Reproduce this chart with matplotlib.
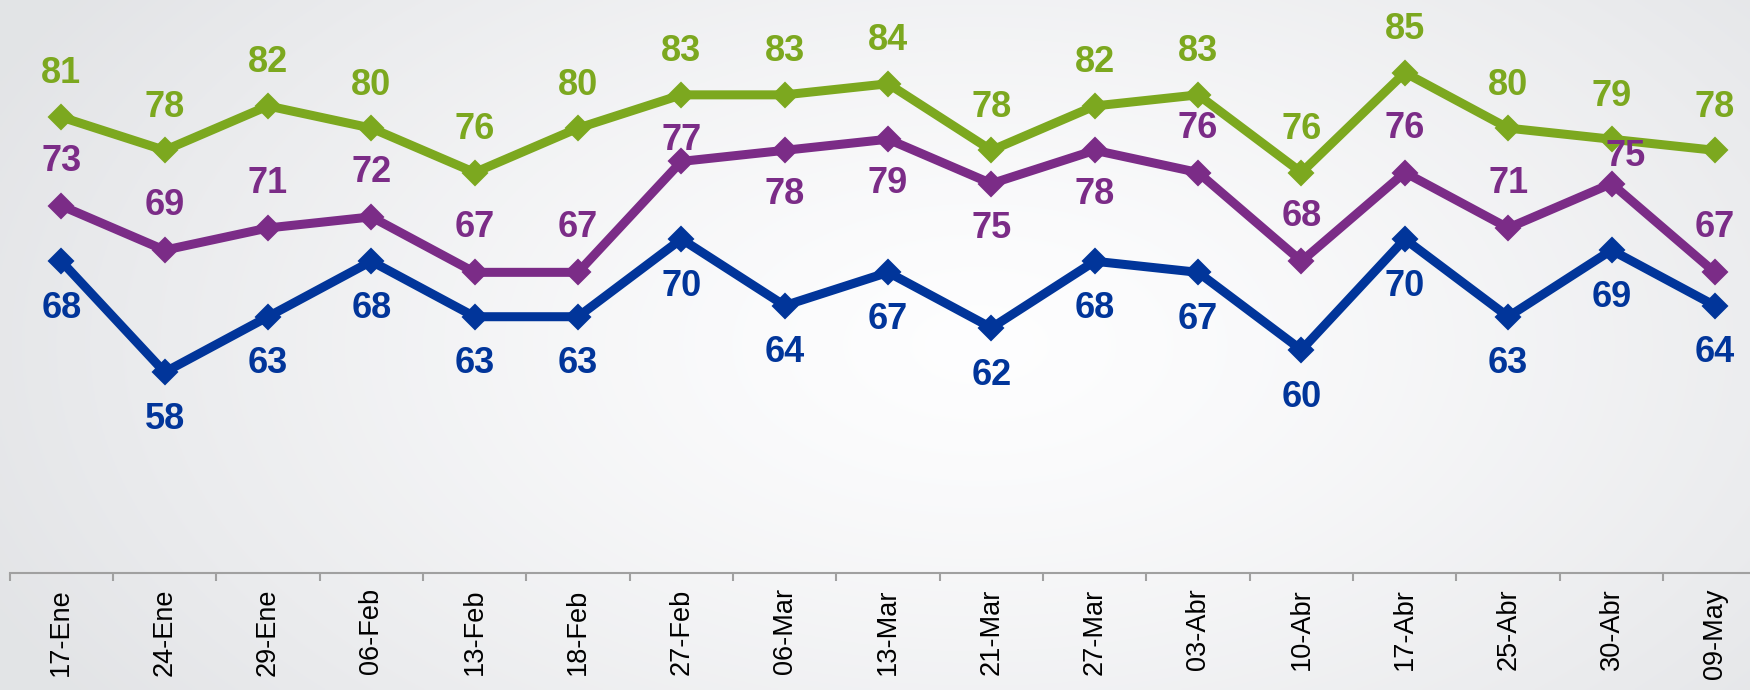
import numpy as np
import matplotlib
matplotlib.use('Agg')
import matplotlib.pyplot as plt

# datos
fechas = ['17-Ene', '24-Ene', '29-Ene', '06-Feb', '13-Feb', '18-Feb', '27-Feb',
          '06-Mar', '13-Mar', '21-Mar', '27-Mar', '03-Abr', '10-Abr', '17-Abr',
          '25-Abr', '30-Abr', '09-May']
verde = [81, 78, 82, 80, 76, 80, 83, 83, 84, 78, 82, 83, 76, 85, 80, 79, 78]
morado = [73, 69, 71, 72, 67, 67, 77, 78, 79, 75, 78, 76, 68, 76, 71, 75, 67]
azul = [68, 58, 63, 68, 63, 63, 70, 64, 67, 62, 68, 67, 60, 70, 63, 69, 64]

c_verde = '#7CA81F'
c_morado = '#7B2C87'
c_azul = '#01359A'

fig = plt.figure(figsize=(17.5, 6.9), dpi=100)

# fondo degradado
bg = fig.add_axes([0, 0, 1, 1], zorder=0)
yy, xx = np.mgrid[0:1:300j, 0:1:700j]
r = np.sqrt(((xx - 0.56) / 0.62) ** 2 + ((yy - 0.5) / 0.9) ** 2)
r = np.clip(r, 0, 1)
top = np.array([0.995, 0.995, 0.998])
edge = np.array([0.89, 0.895, 0.905])
img = top + (edge - top) * r[..., None] ** 1.3
bg.imshow(img, aspect='auto', extent=[0, 1, 0, 1], origin='lower')
bg.axis('off')

ax = fig.add_axes([0.0055, 0.1696, 0.9945, 0.8304], zorder=1)
ax.patch.set_alpha(0)
x = np.arange(len(fechas))

for serie, col in [(verde, c_verde), (morado, c_morado), (azul, c_azul)]:
    ax.plot(x, serie, color=col, lw=6.5, marker='D', ms=12, mec=col, mew=1.5,
            solid_joinstyle='miter', zorder=3)

def etiqueta(xi, v, col, dx, dy):
    ax.annotate(str(v), (xi, v), xytext=(dx, dy), textcoords='offset points',
                ha='center', va='center', color=col, fontsize=26,
                fontweight='bold', family='Liberation Sans', zorder=4)

# etiquetas verdes arriba, azules abajo
for i, v in enumerate(verde):
    etiqueta(i, v, c_verde, 0, 31)
for i, v in enumerate(azul):
    etiqueta(i, v, c_azul, 0, -34)
# moradas: algunas debajo, algunas ajustadas
abajo = [7, 8, 9, 10]
for i, v in enumerate(morado):
    if i in abajo:
        etiqueta(i, v, c_morado, 0, -32)
    elif i == 6:
        etiqueta(i, v, c_morado, 0, 15)
    elif i == 15:
        etiqueta(i, v, c_morado, 10.5, 19.5)
    else:
        etiqueta(i, v, c_morado, 0, 32)

ax.set_xlim(-0.5, 16.34)
ax.set_ylim(39.9, 91.55)
for s in ['top', 'right', 'left']:
    ax.spines[s].set_visible(False)
ax.spines['bottom'].set_color('#a0a0a0')
ax.spines['bottom'].set_linewidth(1.5)
ax.set_yticks([])
ax.set_xticks(x)
ax.set_xticklabels(fechas, rotation=90, fontsize=19.5, family='Liberation Sans',
                   va='top', ha='center')
ax.tick_params(axis='x', which='major', length=0, pad=11)
ax.set_xticks(np.arange(len(fechas)) - 0.5, minor=True)
ax.tick_params(axis='x', which='minor', length=5.5, width=1.5, color='#a0a0a0',
               direction='out')

fig.savefig('out.png', dpi=100)
